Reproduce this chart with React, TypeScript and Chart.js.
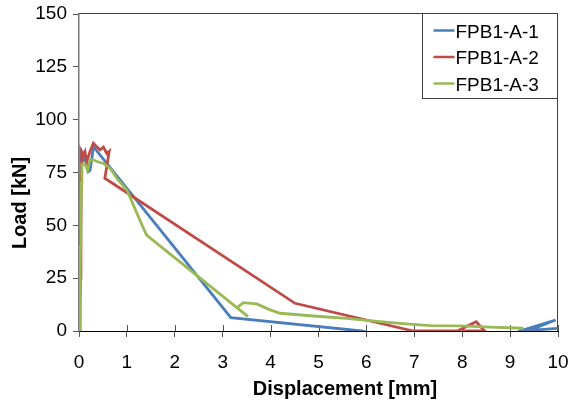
import React, { useEffect, useRef } from 'react';
import { Chart, registerables } from 'chart.js';

Chart.register(...registerables);

const FONT = '"Liberation Sans", Arial, Helvetica, sans-serif';

const seriesNames = ['FPB1-A-1', 'FPB1-A-2', 'FPB1-A-3'];
const seriesColors = ['#4A7EBB', '#BE4B48', '#98B954'];

// FPB1-A-1 (blue)
const blueX = [0, 0.01, 0.02, 0.03, 0.035, 0.06, 0.09, 0.125, 0.16, 0.19, 0.23, 0.27, 0.3, 3.17, 5.9, 6.2, 9.1, 9.2, 9.95, 9.4, 10.0];
const blueY = [0, 8, 30, 46, 84, 82, 81, 82.5, 78, 75.4, 76, 82, 87.2, 6.3, 0, -1.5, -1.5, 0, 5.2, 0.3, 1.2];

// FPB1-A-2 (red)
const redX = [0, 0.02, 0.03, 0.04, 0.05, 0.056, 0.09, 0.125, 0.16, 0.23, 0.3, 0.37, 0.44, 0.51, 0.58, 0.63, 0.54, 4.51, 6.98, 7.9, 8.29, 8.47, 8.0];
const redY = [0, 10, 25, 50, 75, 84.9, 83.3, 84.9, 80, 85, 88.8, 87.2, 85.7, 87, 84, 85, 72.3, 13.1, 0, 0, 4.4, 0, 0];

// FPB1-A-3 (green)
const greenX = [0, 0.02, 0.03, 0.04, 0.05, 0.06, 0.12, 0.18, 0.23, 0.3, 0.4, 0.51, 0.65, 0.8, 1.0, 1.27, 1.41, 3.53, 3.3, 3.43, 3.71, 3.99, 4.2, 4.89, 5.59, 6.28, 6.7, 7.33, 7.95, 8.6, 9.28];
const greenY = [0, 20, 40, 58, 70, 79, 79, 76, 81, 81, 80, 79.3, 77, 72, 66.7, 52.5, 45.4, 6.8, 11, 13.4, 12.8, 10, 8.4, 7.1, 6, 4.4, 3.6, 2.5, 2.4, 1.8, 1.3];

const xTicks = [0, 1, 2, 3, 4, 5, 6, 7, 8, 9, 10];
const yTicks = [0, 25, 50, 75, 100, 125, 150];
const xTitle = 'Displacement [mm]';
const yTitle = 'Load [kN]';

const toPts = (xs: number[], ys: number[]) => xs.map((x, i) => ({ x, y: ys[i] }));

export default function App() {
  const ref = useRef<HTMLCanvasElement>(null);

  useEffect(() => {
    document.body.style.margin = '0';
    const canvas = ref.current;
    if (!canvas) return;

    const decor = {
      id: 'decor',
      beforeDatasetsDraw(chart: any) {
        const { ctx, chartArea } = chart;
        const { left, right, top, bottom } = chartArea;
        ctx.save();
        ctx.strokeStyle = '#404040';
        ctx.lineWidth = 1;
        ctx.beginPath();
        ctx.moveTo(left, top - 0.5);
        ctx.lineTo(right, top - 0.5);
        ctx.moveTo(right - 0.5, top);
        ctx.lineTo(right - 0.5, bottom);
        ctx.stroke();
        const xs = chart.scales.x;
        ctx.strokeStyle = '#555';
        ctx.beginPath();
        for (const t of xTicks) {
          const px = Math.round(xs.getPixelForValue(t)) + 0.5;
          ctx.moveTo(px, bottom - 6);
          ctx.lineTo(px, bottom);
        }
        ctx.stroke();
        ctx.restore();
      },
      afterDraw(chart: any) {
        const { ctx, chartArea } = chart;
        const { right, top } = chartArea;
        ctx.save();
        ctx.fillStyle = '#000';
        ctx.font = `bold 20px ${FONT}`;
        ctx.textAlign = 'center';
        ctx.textBaseline = 'alphabetic';
        ctx.fillText(xTitle, 345, 395);
        ctx.translate(26, 203);
        ctx.rotate(-Math.PI / 2);
        ctx.fillText(yTitle, 0, 0);
        ctx.restore();

        ctx.save();
        const bw = 135;
        const bh = 85;
        const bx = Math.round(right) - bw - 0.5;
        const by = Math.round(top) - 0.5;
        ctx.fillStyle = '#fff';
        ctx.fillRect(bx, by, bw, bh);
        ctx.strokeStyle = '#404040';
        ctx.lineWidth = 1;
        ctx.strokeRect(bx, by, bw, bh);
        ctx.font = `19px ${FONT}`;
        ctx.textAlign = 'left';
        ctx.textBaseline = 'alphabetic';
        seriesNames.forEach((name, i) => {
          const base = by + 24 + i * 26.5;
          ctx.strokeStyle = seriesColors[i];
          ctx.lineWidth = 2.5;
          ctx.beginPath();
          ctx.moveTo(bx + 11, base - 7);
          ctx.lineTo(bx + 32, base - 7);
          ctx.stroke();
          ctx.fillStyle = '#000';
          ctx.fillText(name, bx + 33, base);
        });
        ctx.restore();
      },
    };

    const datasets = [
      { label: seriesNames[0], data: toPts(blueX, blueY), order: 3 },
      { label: seriesNames[1], data: toPts(redX, redY), order: 2 },
      { label: seriesNames[2], data: toPts(greenX, greenY), order: 1 },
    ].map((d, i) => ({
      ...d,
      showLine: true,
      borderColor: seriesColors[i],
      backgroundColor: seriesColors[i],
      borderWidth: 2.8,
      pointRadius: 0,
      tension: 0,
      fill: false,
    }));

    const chart = new Chart(canvas, {
      type: 'scatter',
      data: { datasets },
      options: {
        responsive: false,
        animation: false,
        devicePixelRatio: 1,
        layout: { padding: { left: 0, right: 13, top: 14, bottom: 0 } },
        plugins: { legend: { display: false }, tooltip: { enabled: false } },
        scales: {
          x: {
            type: 'linear',
            min: 0,
            max: 10,
            afterFit: (s: any) => { s.height = 75; s.paddingLeft = 0; s.paddingRight = 0; s.paddingTop = 0; s.paddingBottom = 0; },
            afterBuildTicks: (s: any) => { s.ticks = xTicks.map((v) => ({ value: v })); },
            ticks: { font: { family: FONT, size: 19 }, color: '#000', padding: 14, maxRotation: 0, autoSkip: false },
            grid: { drawOnChartArea: false, drawTicks: true, tickLength: 6, color: '#555' },
            border: { display: true, color: '#000', width: 1 },
          },
          y: {
            type: 'linear',
            min: 0,
            max: 150,
            afterFit: (s: any) => { s.width = 79; s.paddingLeft = 0; s.paddingRight = 0; s.paddingTop = 0; s.paddingBottom = 0; },
            afterBuildTicks: (s: any) => { s.ticks = yTicks.map((v) => ({ value: v })); },
            ticks: { font: { family: FONT, size: 19 }, color: '#000', padding: 6, autoSkip: false },
            grid: { drawOnChartArea: false, drawTicks: true, tickLength: 6, color: '#555' },
            border: { display: true, color: '#777', width: 1.5 },
          },
        },
      },
      plugins: [decor],
    } as any);

    return () => chart.destroy();
  }, []);

  return (
    <div style={{ width: 571, height: 406 }}>
      <canvas ref={ref} width={571} height={406} style={{ display: 'block', width: 571, height: 406 }} />
    </div>
  );
}
